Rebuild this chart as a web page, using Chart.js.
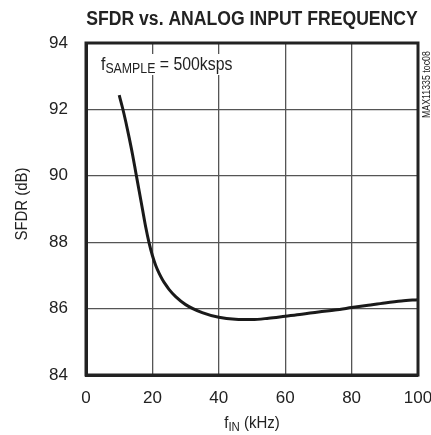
<!DOCTYPE html>
<html lang="en">
<head>
 <meta charset="UTF-8">
 <title>SFDR vs. Analog Input Frequency</title>
 <script src="https://cdn.jsdelivr.net/npm/chart.js"></script>
 <style>
 html, body { margin: 0; padding: 0; background: #fff; }
 #wrap { width: 431px; height: 435px; }
 </style>
</head>
<body>
 <div id="wrap"><canvas id="myChart" width="431" height="435"></canvas></div>
 <script>
 // data
 const freqKHz = [10, 11, 12, 13, 14, 15, 16, 17, 18, 19, 20, 21, 22, 23, 24, 25, 27, 30, 35, 40, 45, 50, 55, 60, 65, 70, 75, 80, 85, 90, 95, 100];
 const sfdrDb = [92.43, 92.05, 91.62, 91.15, 90.65, 90.1, 89.55, 89.0, 88.45, 87.98, 87.6, 87.3, 87.07, 86.88, 86.72, 86.58, 86.36, 86.12, 85.88, 85.74, 85.68, 85.67, 85.71, 85.77, 85.83, 85.9, 85.96, 86.03, 86.1, 86.17, 86.23, 86.27];
 const xTicks = [0, 20, 40, 60, 80, 100];
 const yTicks = [84, 86, 88, 90, 92, 94];

 const FONT = '"Liberation Sans", Arial, sans-serif';
 const SQUEEZE = 0.88; // the original uses a narrow face

 // draw a run of [text, size, dy] pieces squeezed horizontally
 function runText(c, parts, x, y, align, bold) {
 c.save();
 c.translate(x, y);
 c.scale(SQUEEZE, 1);
 let w = 0;
 parts.forEach(p => { c.font = (bold ? 'bold ' : '') + p[1] + 'px ' + FONT; w += c.measureText(p[0]).width; });
 let cx = align === 'center' ? -w / 2 : 0;
 c.textAlign = 'left';
 parts.forEach(p => {
 c.font = (bold ? 'bold ' : '') + p[1] + 'px ' + FONT;
 c.fillText(p[0], cx, p[2]);
 cx += c.measureText(p[0]).width;
 });
 c.restore();
 }

 const extras = {
 id: 'extras',
 afterDraw(chart) {
 const c = chart.ctx;
 const a = chart.chartArea;
 c.save();
 // white label box behind the note, gridlines stop at it
 c.fillStyle = '#fff';
 c.fillRect(97, 54, 142, 21);

 // frame
 c.strokeStyle = '#222';
 c.lineWidth = 3;
 c.strokeRect(a.left, a.top, a.right - a.left, a.bottom - a.top);

 c.fillStyle = '#222';
 c.textBaseline = 'alphabetic';
 runText(c, [['SFDR vs. ANALOG INPUT FREQUENCY', 20, 0]], (a.left + a.right) / 2, 25, 'center', true);
 runText(c, [['f', 18, 0], ['SAMPLE', 14, 3], [' = 500ksps', 18, 0]], 101, 70, 'left');
 runText(c, [['f', 17, 0], ['IN', 13, 3], [' (kHz)', 17, 0]], (a.left + a.right) / 2, 428, 'center');

 // y axis title
 c.save();
 c.translate(27, 204);
 c.rotate(-Math.PI / 2);
 runText(c, [['SFDR (dB)', 17, 0]], 0, 0, 'center');
 c.restore();

 // side label
 c.save();
 c.translate(430, 118);
 c.rotate(-Math.PI / 2);
 runText(c, [['MAX11335 toc08', 10, 0]], 0, 0, 'left');
 c.restore();
 c.restore();
 }
 };

 const ctx = document.getElementById('myChart').getContext('2d');
 const myChart = new Chart(ctx, {
 type: 'line',
 data: {
 datasets: [{
 data: freqKHz.map((f, i) => ({ x: f, y: sfdrDb[i] })),
 borderColor: '#1a1a1a',
 borderWidth: 3,
 pointRadius: 0,
 fill: false,
 cubicInterpolationMode: 'monotone'
 }]
 },
 options: {
 responsive: false,
 animation: false,
 layout: { padding: { left: 0, right: 13, top: 43, bottom: 0 } },
 plugins: { legend: { display: false }, tooltip: { enabled: false }, title: { display: false } },
 scales: {
 x: {
 type: 'linear', min: 0, max: 100,
 afterBuildTicks: s => { s.ticks = xTicks.map(v => ({ value: v })); },
 afterFit: s => { s.height = 60; s.paddingLeft = 0; s.paddingRight = 0; },
 grid: { color: '#555', lineWidth: 1.3, drawTicks: false },
 border: { color: '#222', width: 3 },
 ticks: { color: '#222', padding: 13, font: { family: FONT, size: 17 } }
 },
 y: {
 type: 'linear', min: 84, max: 94,
 afterBuildTicks: s => { s.ticks = yTicks.map(v => ({ value: v })); },
 afterFit: s => { s.width = 86; s.paddingTop = 0; s.paddingBottom = 0; },
 grid: { color: '#555', lineWidth: 1.3, drawTicks: false },
 border: { color: '#222', width: 3 },
 ticks: { color: '#222', padding: 18, font: { family: FONT, size: 17 } }
 }
 }
 },
 plugins: [extras]
 });
 </script>
</body>
</html>
